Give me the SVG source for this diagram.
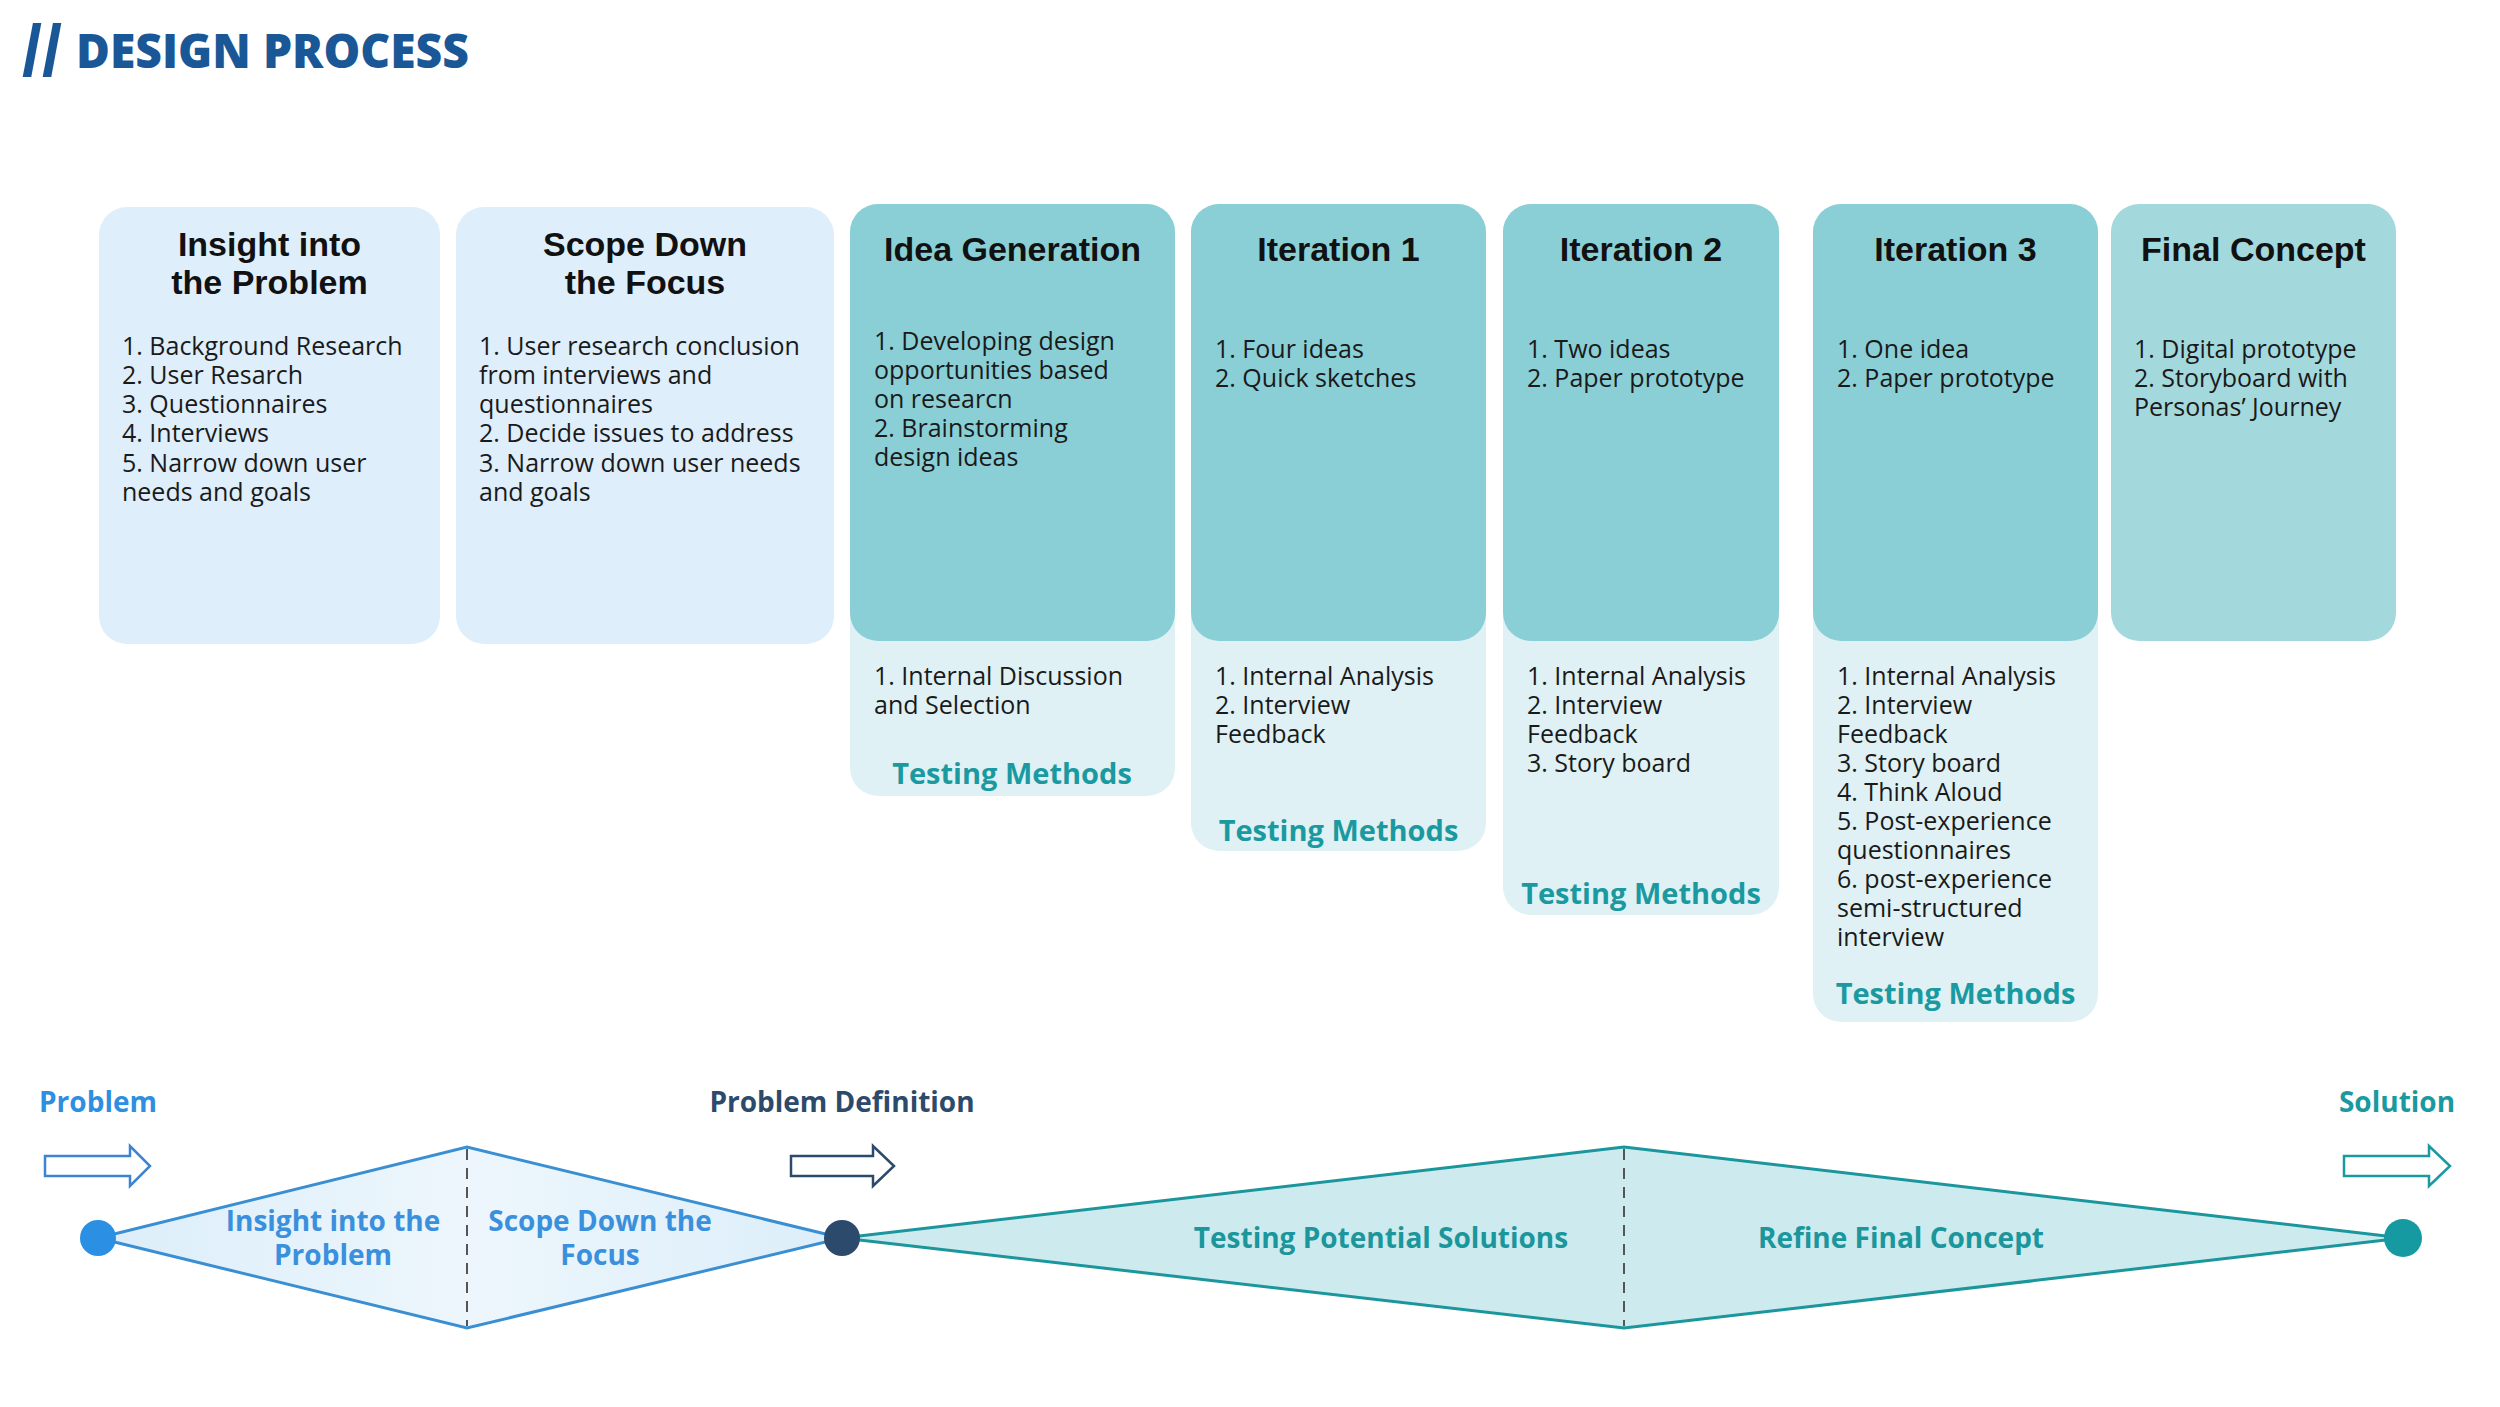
<svg xmlns="http://www.w3.org/2000/svg" width="2500" height="1407" viewBox="0 0 2500 1407">
<defs>
<style>
.ttl{font-family:"Liberation Sans",Arial,sans-serif;font-weight:700;font-size:34px;fill:#111;text-anchor:middle}
.body{font-family:"Open Sans","DejaVu Sans",sans-serif;font-weight:400;font-size:25px;fill:#1a1a1a}
.tm{font-family:"Open Sans","DejaVu Sans",sans-serif;font-weight:700;font-size:29px;fill:#1A9AA0;text-anchor:middle}
.lbl{font-family:"Open Sans","DejaVu Sans",sans-serif;font-weight:700;font-size:28px;text-anchor:middle}
.light{fill:#DEEEFA}
.dark{fill:#8ACFD6}
.low{fill:#DFF1F4}
.arrow{fill:#fff;stroke-width:2.5}
.dash{stroke:#555;stroke-width:2;stroke-dasharray:11 8}
</style>
<linearGradient id="g1" x1="0" y1="0" x2="1" y2="0">
<stop offset="0" stop-color="#DCEEFA"/>
<stop offset="0.5" stop-color="#EDF6FC"/>
<stop offset="1" stop-color="#DCEEFA"/>
</linearGradient>
</defs>
<rect width="2500" height="1407" fill="#fff"/>

<g id="title">
<text x="22" y="76" font-family="Liberation Sans, Arial, sans-serif" font-weight="700" font-size="72" fill="#1A5796">//</text>
<text x="76" y="68" font-family="Open Sans, DejaVu Sans, sans-serif" font-weight="800" font-size="47" fill="#1A5796" textLength="393" lengthAdjust="spacingAndGlyphs">DESIGN PROCESS</text>
</g>

<g id="box-insight">
<rect x="99" y="207" width="341" height="437" rx="28" class="light"/>
<text class="ttl" x="269.5" y="256">Insight into</text>
<text class="ttl" x="269.5" y="294">the Problem</text>
<text class="body"><tspan x="122" y="355">1. Background Research</tspan><tspan x="122" y="384">2. User Resarch</tspan><tspan x="122" y="413">3. Questionnaires</tspan><tspan x="122" y="442">4. Interviews</tspan><tspan x="122" y="472">5. Narrow down user</tspan><tspan x="122" y="501">needs and goals</tspan></text>
</g>

<g id="box-scope">
<rect x="456" y="207" width="378" height="437" rx="28" class="light"/>
<text class="ttl" x="645" y="256">Scope Down</text>
<text class="ttl" x="645" y="294">the Focus</text>
<text class="body"><tspan x="479" y="355">1. User research conclusion</tspan><tspan x="479" y="384">from interviews and</tspan><tspan x="479" y="413">questionnaires</tspan><tspan x="479" y="442">2. Decide issues to address</tspan><tspan x="479" y="472">3. Narrow down user needs</tspan><tspan x="479" y="501">and goals</tspan></text>
</g>

<g id="box-idea">
<rect x="850" y="204" width="325" height="592" rx="28" class="low"/>
<rect x="850" y="204" width="325" height="437" rx="28" class="dark"/>
<text class="ttl" x="1012.5" y="261">Idea Generation</text>
<text class="body"><tspan x="874" y="350">1. Developing design</tspan><tspan x="874" y="379">opportunities based</tspan><tspan x="874" y="408">on researcn</tspan><tspan x="874" y="437">2. Brainstorming</tspan><tspan x="874" y="466">design ideas</tspan></text>
<text class="body"><tspan x="874" y="685">1. Internal Discussion</tspan><tspan x="874" y="714">and Selection</tspan></text>
<text class="tm" x="1012" y="784">Testing Methods</text>
</g>

<g id="box-iter1">
<rect x="1191" y="204" width="295" height="647" rx="28" class="low"/>
<rect x="1191" y="204" width="295" height="437" rx="28" class="dark"/>
<text class="ttl" x="1338.5" y="261">Iteration 1</text>
<text class="body"><tspan x="1215" y="358">1. Four ideas</tspan><tspan x="1215" y="387">2. Quick sketches</tspan></text>
<text class="body"><tspan x="1215" y="685">1. Internal Analysis</tspan><tspan x="1215" y="714">2. Interview</tspan><tspan x="1215" y="743">Feedback</tspan></text>
<text class="tm" x="1338.5" y="841">Testing Methods</text>
</g>

<g id="box-iter2">
<rect x="1503" y="204" width="276" height="711" rx="28" class="low"/>
<rect x="1503" y="204" width="276" height="437" rx="28" class="dark"/>
<text class="ttl" x="1641" y="261">Iteration 2</text>
<text class="body"><tspan x="1527" y="358">1. Two ideas</tspan><tspan x="1527" y="387">2. Paper prototype</tspan></text>
<text class="body"><tspan x="1527" y="685">1. Internal Analysis</tspan><tspan x="1527" y="714">2. Interview</tspan><tspan x="1527" y="743">Feedback</tspan><tspan x="1527" y="772">3. Story board</tspan></text>
<text class="tm" x="1641" y="904">Testing Methods</text>
</g>

<g id="box-iter3">
<rect x="1813" y="204" width="285" height="818" rx="28" class="low"/>
<rect x="1813" y="204" width="285" height="437" rx="28" class="dark"/>
<text class="ttl" x="1955.5" y="261">Iteration 3</text>
<text class="body"><tspan x="1837" y="358">1. One idea</tspan><tspan x="1837" y="387">2. Paper prototype</tspan></text>
<text class="body"><tspan x="1837" y="685">1. Internal Analysis</tspan><tspan x="1837" y="714">2. Interview</tspan><tspan x="1837" y="743">Feedback</tspan><tspan x="1837" y="772">3. Story board</tspan><tspan x="1837" y="801">4. Think Aloud</tspan><tspan x="1837" y="830">5. Post-experience</tspan><tspan x="1837" y="859">questionnaires</tspan><tspan x="1837" y="888">6. post-experience</tspan><tspan x="1837" y="917">semi-structured</tspan><tspan x="1837" y="946">interview</tspan></text>
<text class="tm" x="1955.5" y="1004">Testing Methods</text>
</g>

<g id="box-final">
<rect x="2111" y="204" width="285" height="437" rx="28" fill="#A3D9DD"/>
<text class="ttl" x="2253.5" y="261">Final Concept</text>
<text class="body"><tspan x="2134" y="358">1. Digital prototype</tspan><tspan x="2134" y="387">2. Storyboard with</tspan><tspan x="2134" y="416">Personas’ Journey</tspan></text>
</g>

<g id="diamond-problem">
<polygon points="98,1238 467,1147 842,1238 467,1328" fill="url(#g1)" stroke="#3A8FD3" stroke-width="3"/>
<line x1="467" y1="1149" x2="467" y2="1326" class="dash"/>
<text class="lbl" fill="#3A90DC" font-size="27"><tspan x="333" y="1231">Insight into the</tspan><tspan x="333" y="1265">Problem</tspan></text>
<text class="lbl" fill="#3A90DC" font-size="27"><tspan x="600" y="1231">Scope Down the</tspan><tspan x="600" y="1265">Focus</tspan></text>
</g>

<g id="diamond-solution">
<polygon points="842,1238 1624,1147 2403,1238 1624,1328" fill="#CDEAEE" stroke="#1B969C" stroke-width="3"/>
<line x1="1624" y1="1149" x2="1624" y2="1326" class="dash"/>
<text class="lbl" fill="#1A969C" x="1381" y="1248">Testing Potential Solutions</text>
<text class="lbl" fill="#1A969C" x="1901" y="1248">Refine Final Concept</text>
</g>

<g id="connectors">
<path class="arrow" stroke="#3C84D0" d="M45,1156 H130 V1146 L150,1166 L130,1186 V1176 H45 Z"/>
<path class="arrow" stroke="#2C4A6B" d="M791,1156 H873 V1146 L894,1166 L873,1186 V1176 H791 Z"/>
<path class="arrow" stroke="#1A9AA0" d="M2344,1156 H2429 V1146 L2450,1166 L2429,1186 V1176 H2344 Z"/>
</g>

<g id="node-problem">
<circle cx="98" cy="1238" r="18" fill="#2B8FE3"/>
<text class="lbl" fill="#2E8FE0" x="98" y="1112">Problem</text>
</g>
<g id="node-definition">
<circle cx="842" cy="1238" r="18" fill="#2C4A6B"/>
<text class="lbl" fill="#2C4A6B" x="842" y="1112">Problem Definition</text>
</g>
<g id="node-solution">
<circle cx="2403" cy="1238" r="19" fill="#149AA0"/>
<text class="lbl" fill="#1A9AA0" x="2397" y="1112">Solution</text>
</g>
</svg>
